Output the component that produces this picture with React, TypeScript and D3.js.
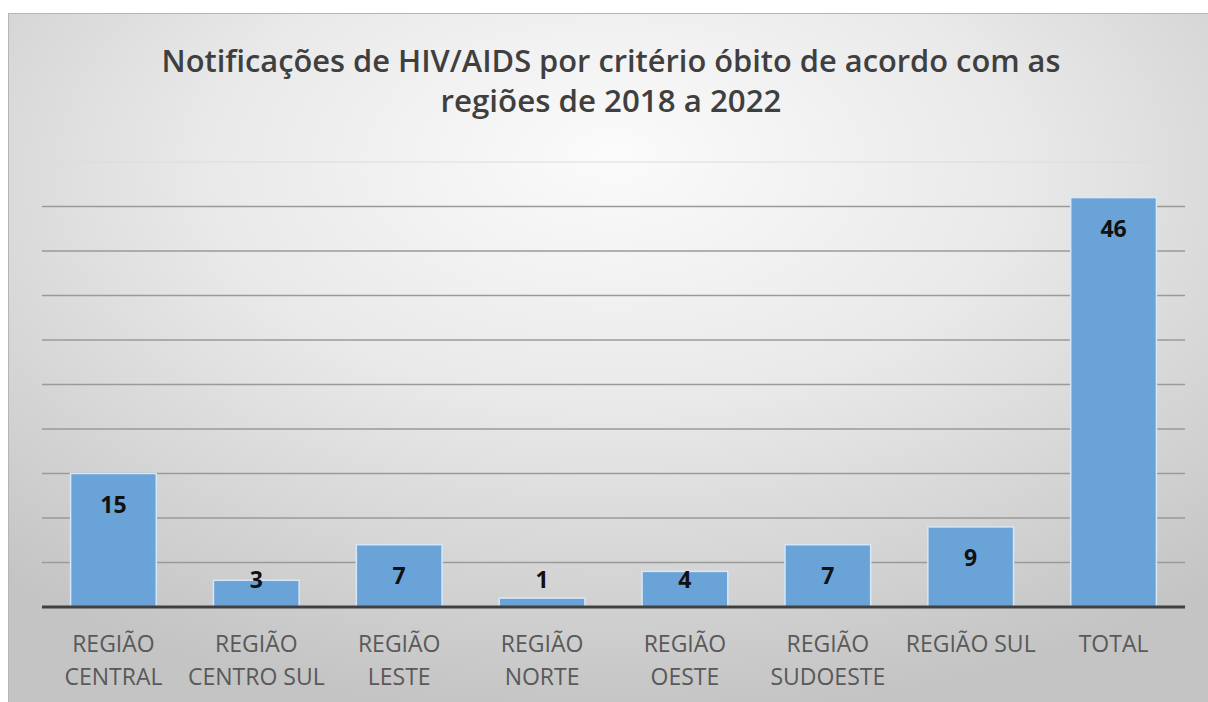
import * as d3 from "d3";

const titleLines = [
  "Notificações de HIV/AIDS por critério óbito de acordo com as",
  "regiões de 2018 a 2022",
];

const categories = [
  "REGIÃO CENTRAL",
  "REGIÃO CENTRO SUL",
  "REGIÃO LESTE",
  "REGIÃO NORTE",
  "REGIÃO OESTE",
  "REGIÃO SUDOESTE",
  "REGIÃO SUL",
  "TOTAL",
];

const values = [15, 3, 7, 1, 4, 7, 9, 46];

const gridTicks = [5, 10, 15, 20, 25, 30, 35, 40, 45, 50];

const W = 1208;
const H = 702;
const margin = { top: 162, right: 23, bottom: 95, left: 42 };

// long names go on two lines, like the excel wrapping
const splitLabel = (s: string) => {
  if (s.length <= 10) return [s];
  const i = s.indexOf(" ");
  return [s.slice(0, i), s.slice(i + 1)];
};

const App = () => {
  const x = d3
    .scaleBand<string>()
    .domain(categories)
    .range([margin.left, W - margin.right])
    .paddingInner(0.4)
    .paddingOuter(0.2);

  const y = d3
    .scaleLinear()
    .domain([0, 50])
    .range([H - margin.bottom, margin.top]);

  const font = "'Open Sans', 'Noto Sans', sans-serif";

  return (
    <svg
      width={W}
      height={H}
      style={{ position: "fixed", top: 0, left: 0, display: "block" }}
    >
      <defs>
        <radialGradient id="bg" cx="0.5" cy="0.25" r="0.75" fx="0.5" fy="0.2">
          <stop offset="0" stopColor="#fbfbfb" />
          <stop offset="0.45" stopColor="#e9e9e9" />
          <stop offset="1" stopColor="#c4c4c4" />
        </radialGradient>
      </defs>
      <rect x={0} y={0} width={W} height={H} fill="#ffffff" />
      <rect
        x={8.5}
        y={13.5}
        width={1210}
        height={700}
        fill="url(#bg)"
        stroke="#b5b5b5"
        strokeWidth={1}
      />

      {titleLines.map((t, i) => (
        <text
          key={t}
          x={611}
          y={72 + i * 40}
          textAnchor="middle"
          fontFamily={font}
          fontSize={30}
          fontWeight={600}
          fill="#3f3f3f"
          textLength={i === 0 ? 899 : 341}
          lengthAdjust="spacingAndGlyphs"
        >
          {t}
        </text>
      ))}

      {gridTicks.map((t) => (
        <line
          key={t}
          x1={margin.left}
          x2={W - margin.right}
          y1={y(t)}
          y2={y(t)}
          stroke={t === 50 ? "#dcdcdc" : "#9a9a9a"}
          strokeWidth={t === 50 ? 1 : 1.5}
        />
      ))}

      {categories.map((c, i) => (
        <rect
          key={c}
          x={x(c)}
          y={y(values[i])}
          width={x.bandwidth()}
          height={y(0) - y(values[i])}
          fill="#6aa3d8"
          stroke="#d6e8f8"
          strokeWidth={1.5}
        />
      ))}

      <line
        x1={margin.left}
        x2={W - margin.right}
        y1={y(0)}
        y2={y(0)}
        stroke="#404040"
        strokeWidth={3}
      />

      {categories.map((c, i) => (
        <text
          key={c}
          x={(x(c) ?? 0) + x.bandwidth() / 2}
          y={Math.min(y(values[i]) + 31, y(0) - 27)}
          dy="0.36em"
          textAnchor="middle"
          fontFamily={font}
          fontSize={23}
          fontWeight={700}
          fill="#111111"
        >
          {values[i]}
        </text>
      ))}

      {categories.map((c) => (
        <text
          key={c}
          x={(x(c) ?? 0) + x.bandwidth() / 2}
          textAnchor="middle"
          fontFamily={font}
          fontSize={23}
          fill="#595959"
        >
          {splitLabel(c).map((line, j) => (
            <tspan key={line} x={(x(c) ?? 0) + x.bandwidth() / 2} y={652 + j * 33}>
              {line}
            </tspan>
          ))}
        </text>
      ))}
    </svg>
  );
};

export default App;
